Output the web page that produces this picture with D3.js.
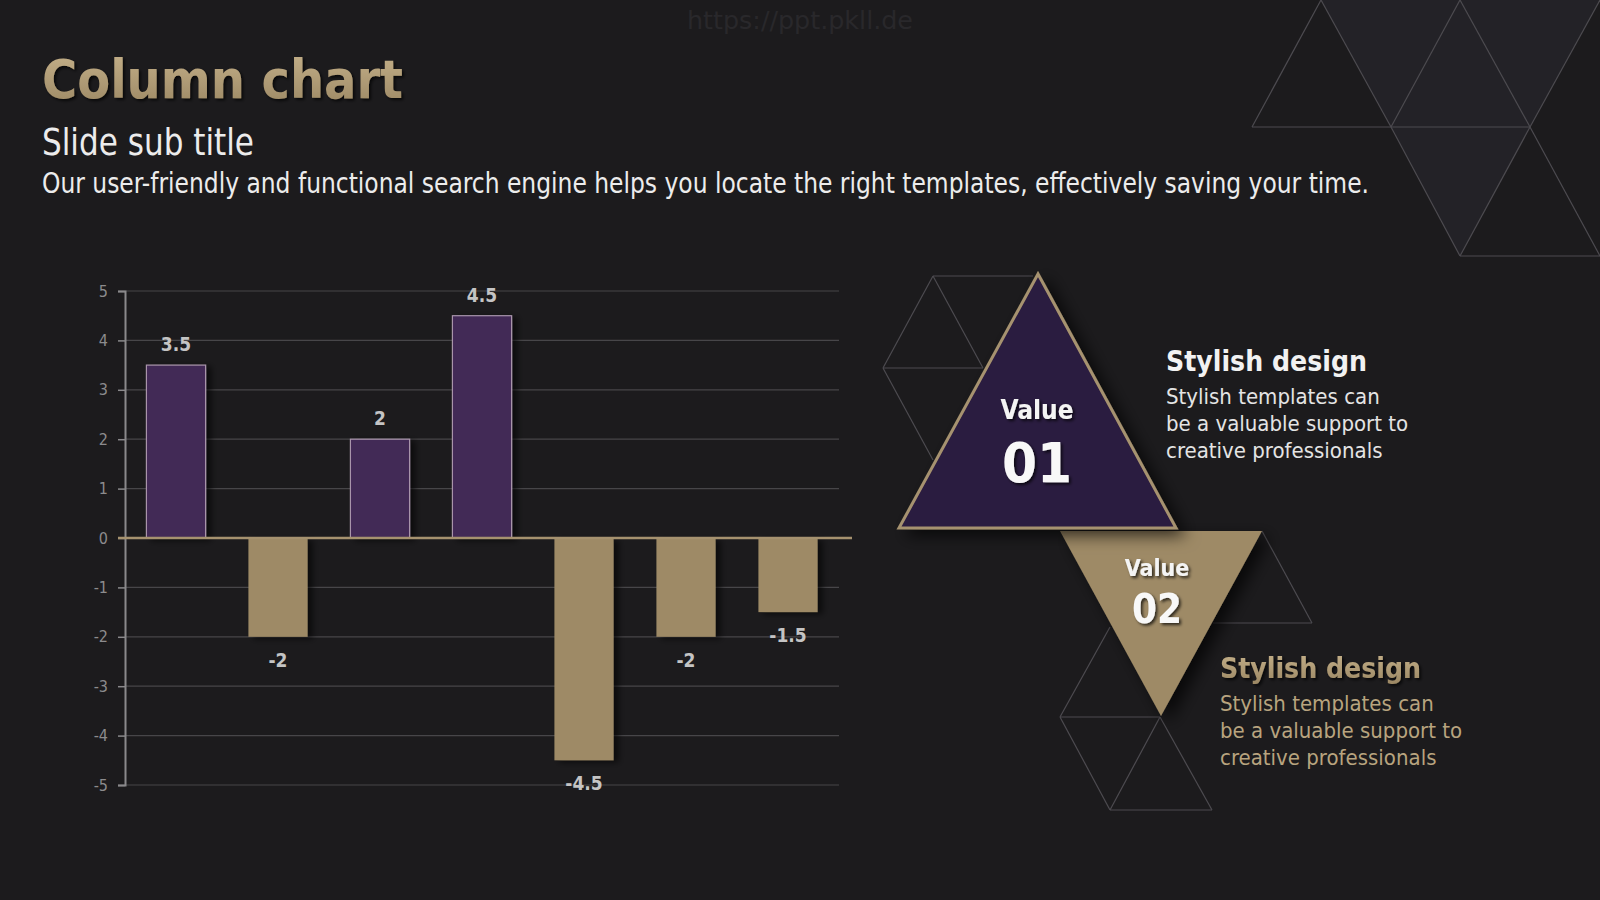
<!DOCTYPE html>
<html>
<head>
<meta charset="utf-8">
<script src="https://cdn.jsdelivr.net/npm/d3@7"></script>
<style>
  html, body { margin: 0; padding: 0; background: #1c1b1d; }
  svg { display: block; }
  text { font-family: "DejaVu Sans Condensed", "DejaVu Sans", sans-serif; }
</style>
</head>
<body>
<svg id="chart" width="1600" height="900"></svg>
<script>
// ---- chart data ----
const categories = ["Item 1", "Item 2", "Item 3", "Item 4", "Item 5", "Item 6", "Item 7"];
const values = [3.5, -2, 2, 4.5, -4.5, -2, -1.5];
const yTicks = [5, 4, 3, 2, 1, 0, -1, -2, -3, -4, -5];
const yDomain = [-5, 5];

// ---- text content ----
const titleText = "Column chart";
const subTitleText = "Slide sub title";
const bodyText = "Our user-friendly and functional search engine helps you locate the right templates, effectively saving your time.";
const watermarkText = "https://ppt.pkll.de";
const infoHeads = ["Stylish design", "Stylish design"];
const infoLines = ["Stylish templates can", "be a valuable support to", "creative professionals"];
const badgeLabels = ["Value", "Value"];
const badgeNumbers = ["01", "02"];

// ---- decorative geometry (outline triangles) ----
const outlineLines = [
  [[1252,127],[1321,0]], [[1321,0],[1391,127]], [[1252,127],[1530,127]],
  [[1391,127],[1460,0]], [[1460,0],[1530,127]],
  [[1391,127],[1460,256]], [[1530,127],[1460,256]], [[1460,256],[1600,256]],
  [[1530,127],[1600,256]], [[1530,127],[1600,0]],
  [[933,276],[1033,276]], [[933,276],[883,368]], [[933,276],[983,368]], [[883,368],[983,368]],
  [[883,368],[933,460]],
  [[1262,531],[1312,623]], [[1213,623],[1312,623]],
  [[1110,627],[1060,717]], [[1060,717],[1160,717]], [[1060,717],[1110,810]],
  [[1160,717],[1110,810]], [[1160,717],[1212,810]], [[1110,810],[1212,810]]
];
const shadedPolys = [
  [[1321,0],[1460,0],[1391,127]],
  [[1391,127],[1460,0],[1530,127]],
  [[1391,127],[1530,127],[1460,256]],
  [[1460,0],[1600,0],[1530,127]]
];

const hyphen = s => String(s).replace("\u2212", "-");

const svg = d3.select("#chart");
const defs = svg.append("defs");

const gold = defs.append("linearGradient").attr("id","gold").attr("x1",0).attr("y1",0).attr("x2",0).attr("y2",1);
gold.append("stop").attr("offset","0%").attr("stop-color","#c6b28b");
gold.append("stop").attr("offset","100%").attr("stop-color","#9a8662");

const sh = defs.append("filter").attr("id","shadow").attr("x","-20%").attr("y","-20%").attr("width","150%").attr("height","150%");
sh.append("feDropShadow").attr("dx",5).attr("dy",2).attr("stdDeviation",3).attr("flood-color","#000").attr("flood-opacity",0.6);
const tsh = defs.append("filter").attr("id","tshadow").attr("x","-20%").attr("y","-20%").attr("width","150%").attr("height","150%");
tsh.append("feDropShadow").attr("dx",2).attr("dy",2).attr("stdDeviation",1.5).attr("flood-color","#000").attr("flood-opacity",0.7);
const bsh = defs.append("filter").attr("id","bigshadow").attr("x","-30%").attr("y","-30%").attr("width","170%").attr("height","170%");
bsh.append("feDropShadow").attr("dx",8).attr("dy",6).attr("stdDeviation",8).attr("flood-color","#000").attr("flood-opacity",0.7);

// background decoration
svg.append("g").selectAll("polygon").data(shadedPolys).join("polygon")
  .attr("points", d => d.map(p => p.join(",")).join(" "))
  .attr("fill", "#232227");
svg.append("g").selectAll("line").data(outlineLines).join("line")
  .attr("x1", d => d[0][0]).attr("y1", d => d[0][1])
  .attr("x2", d => d[1][0]).attr("y2", d => d[1][1])
  .attr("stroke", "#4d4b50").attr("stroke-width", 1.2);

// watermark
svg.append("text").attr("x", 687).attr("y", 29)
  .attr("font-size", 25).attr("fill", "#29282b")
  .attr("textLength", 226).attr("lengthAdjust","spacingAndGlyphs").text(watermarkText);

// titles
svg.append("text").attr("x", 42).attr("y", 98).attr("font-size", 54).attr("font-weight","bold")
  .attr("fill","url(#gold)").attr("filter","url(#tshadow)")
  .attr("textLength", 361).attr("lengthAdjust","spacingAndGlyphs").text(titleText);
svg.append("text").attr("x", 42).attr("y", 155).attr("font-size", 38)
  .attr("fill","#ececec")
  .attr("textLength", 212).attr("lengthAdjust","spacingAndGlyphs").text(subTitleText);
svg.append("text").attr("x", 42).attr("y", 193).attr("font-size", 28)
  .attr("fill","#ececec")
  .attr("textLength", 1327).attr("lengthAdjust","spacingAndGlyphs").text(bodyText);

// ---- chart ----
const x = d3.scaleBand().domain(categories).range([125, 839]).paddingInner(0.42).paddingOuter(0.21);
const y = d3.scaleLinear().domain(yDomain).range([785, 291]);

const grid = svg.append("g");
grid.selectAll("line").data(yTicks.filter(t => t !== 0)).join("line")
  .attr("x1", 125).attr("x2", 839)
  .attr("y1", d => y(d)).attr("y2", d => y(d))
  .attr("stroke", "#474649").attr("stroke-width", 1.2);

const yAxis = svg.append("g").attr("transform","translate(125,0)")
  .call(d3.axisLeft(y).tickValues(yTicks).tickSize(7).tickPadding(10).tickFormat(d => hyphen(d3.format("d")(d))));
yAxis.select(".domain").attr("stroke","#8a898b").attr("stroke-width",2);
yAxis.selectAll(".tick line").attr("stroke","#8a898b").attr("stroke-width",1.5);
yAxis.selectAll(".tick text").attr("fill","#8c8b8d").attr("font-size",16)
  .attr("font-family","'DejaVu Sans Condensed', sans-serif");

const bars = svg.append("g");
bars.selectAll("rect").data(values).join("rect")
  .attr("x", (d,i) => x(categories[i]))
  .attr("width", x.bandwidth())
  .attr("y", d => d >= 0 ? y(d) : y(0))
  .attr("height", d => Math.abs(y(d) - y(0)))
  .attr("fill", d => d >= 0 ? "#432a57" : "#9e8a66")
  .attr("stroke", d => d >= 0 ? "#a894aa" : "none")
  .attr("stroke-width", 1.2)
  .attr("filter","url(#shadow)");

// zero line
svg.append("line").attr("x1", 118).attr("x2", 852).attr("y1", y(0)).attr("y2", y(0))
  .attr("stroke","#a6926f").attr("stroke-width",2.5);

// labels
svg.append("g").selectAll("text").data(values).join("text")
  .attr("x", (d,i) => x(categories[i]) + x.bandwidth()/2)
  .attr("y", d => d >= 0 ? y(d) - 14 : y(d) + 30)
  .attr("text-anchor","middle").attr("font-size",19).attr("font-weight","bold")
  .attr("fill","#c4c4c4")
  .text(d => hyphen(d3.format("")(d)));

// ---- badges ----
svg.append("polygon").attr("points","1060,531 1262,531 1161,716")
  .attr("fill","#9e8a66").attr("filter","url(#bigshadow)");
svg.append("polygon").attr("points","1038,274 899,528 1176,528")
  .attr("fill","#2a1a3f").attr("stroke","#a6926f").attr("stroke-width",3)
  .attr("stroke-linejoin","miter").attr("filter","url(#bigshadow)");

const badgePos = [{x:1037, y1:419, y2:482, f1:26, f2:56}, {x:1157, y1:576, y2:623, f1:23, f2:40}];
badgePos.forEach((b,i) => {
  svg.append("text").attr("x", b.x).attr("y", b.y1).attr("text-anchor","middle")
    .attr("font-size", b.f1).attr("font-weight","bold").attr("fill","#f4f4f4")
    .attr("filter","url(#tshadow)").text(badgeLabels[i]);
  svg.append("text").attr("x", b.x).attr("y", b.y2).attr("text-anchor","middle")
    .attr("font-size", b.f2).attr("font-weight","bold").attr("fill","#f8f8f8")
    .attr("filter","url(#tshadow)").text(badgeNumbers[i]);
});

// ---- info blocks ----
const infoPos = [{x:1166, y:371, head:"#f2f2f2", body:"#e4e4e4"}, {x:1220, y:678, head:"url(#gold)", body:"#b8a47f"}];
infoPos.forEach((p,i) => {
  svg.append("text").attr("x", p.x).attr("y", p.y).attr("font-size", 29).attr("font-weight","bold")
    .attr("fill", p.head).attr("filter", i===1 ? "url(#tshadow)" : null)
    .attr("textLength", 201).attr("lengthAdjust","spacingAndGlyphs").text(infoHeads[i]);
  infoLines.forEach((l,j) => {
    svg.append("text").attr("x", p.x).attr("y", p.y + 33 + j*27).attr("font-size", 22)
      .attr("fill", p.body).text(l);
  });
});
</script>
</body>
</html>
